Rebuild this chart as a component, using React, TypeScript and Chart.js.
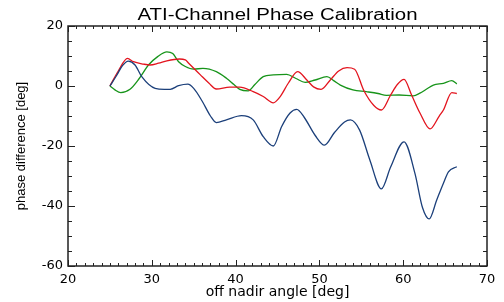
import React, { useEffect, useRef } from "react";
import { Chart, registerables } from "chart.js";

Chart.register(...registerables);

const titleText = "ATI-Channel Phase Calibration";
const xTitle = "off nadir angle [deg]";
const yTitle = "phase difference [deg]";

const xTickValues = [20, 30, 40, 50, 60, 70];
const yTickValues = [-60, -40, -20, 0, 20];
const xMinorStep = 1;
const yMinorStep = 5;

const blueX = [25, 25.8, 26.5, 27.2, 28, 28.8, 30.4, 31.5, 32.2, 33.2, 34.3, 35, 36, 37, 37.7, 38.9, 40.7, 42.1, 43.3, 44.5, 45.5, 46.5, 47.3, 48.2, 49.5, 50.6, 51.8, 53, 53.7, 54.8, 56, 57.4, 58.5, 60.1, 61.4, 62.3, 63.1, 64, 64.8, 65.4, 66.4];
const blueY = [0, 3.5, 6.8, 8.3, 7, 3.1, -0.8, -1.1, -1.1, 0.1, 0.6, -0.8, -5, -10, -12.2, -11.3, -9.9, -11.3, -16.9, -20, -13.5, -9, -7.8, -10.5, -16.5, -19.7, -15.5, -12, -11.3, -14.7, -24.5, -34.3, -27, -18.6, -29.1, -40.5, -44.3, -38, -32.4, -28.6, -26.9];

const redX = [25, 26, 27.1, 27.8, 29, 29.8, 30.8, 31.8, 33.3, 34, 34.4, 35.8, 36.8, 37.7, 39.3, 40.5, 42.1, 43.3, 44.5, 45.3, 46.3, 47.4, 48.5, 49.3, 50.2, 51.3, 52.3, 53.3, 54.2, 55.3, 56.5, 57.4, 58.5, 59.3, 60.1, 61, 62, 63.2, 64.3, 64.8, 65.8, 66.4];
const redY = [0, 5, 9.2, 8.1, 7.3, 7, 7.6, 8.4, 9, 8.7, 7.6, 3.7, 1, -1, -0.4, -0.4, -1.9, -3.5, -5.6, -3.6, 1, 4.8, 2, -0.3, -1.1, 2, 5, 6.1, 5.6, -1.5, -6.5, -8, -3, 0.5, 2.2, -3, -9, -14.3, -10, -8, -2.2, -2.5];

const greenX = [25, 25.6, 26.3, 27.4, 28.5, 29.6, 30.7, 31.8, 32.5, 33.2, 34, 35, 36.1, 37.7, 38.9, 39.8, 40.5, 41.5, 42.3, 43.3, 44.5, 46.1, 47.2, 48.3, 49.5, 50.9, 51.7, 52.5, 54, 55.6, 57, 58, 59.5, 61.2, 62, 62.8, 63.6, 64.8, 65.8, 66.4];
const greenY = [0, -1.3, -2.2, -1.1, 2.5, 7, 9.8, 11.4, 10.8, 8.1, 6.5, 5.6, 5.9, 4.8, 2.6, 0.5, -1.1, -1.6, 0.5, 3.1, 3.7, 3.9, 2.5, 1.2, 2, 3.1, 1.8, 0.3, -1.3, -1.9, -2.5, -3.1, -3, -3.3, -2.4, -1, 0.3, 0.9, 1.8, 0.7];

const pts = (xs: number[], ys: number[]) => xs.map((x, i) => ({ x, y: ys[i] }));

const WIDE = "'DejaVu Sans', Verdana, sans-serif";
const NARROW = "'Liberation Sans', Arial, Helvetica, sans-serif";

const framePlugin = {
  id: "idlFrame",
  afterDraw(chart: any) {
    const { ctx, chartArea: a, scales } = chart;
    const xs = scales.x;
    const ys = scales.y;
    ctx.save();
    // title centred over the plot area, slightly widened like the original font
    ctx.fillStyle = "#000";
    ctx.font = `16px ${NARROW}`;
    ctx.textAlign = "center";
    ctx.textBaseline = "alphabetic";
    const w = ctx.measureText(titleText).width;
    const sx = 280 / w;
    ctx.translate((a.left + a.right) / 2, 20);
    ctx.scale(sx, 1);
    ctx.fillText(titleText, 0, 0);
    ctx.setTransform(1, 0, 0, 1, 0, 0);
    ctx.restore();

    ctx.save();
    ctx.strokeStyle = "#222";
    ctx.lineWidth = 1;
    ctx.beginPath();
    for (let v = xs.min; v <= xs.max + 1e-9; v += xMinorStep) {
      const px = Math.round(xs.getPixelForValue(v)) + 0.5;
      const len = xTickValues.includes(v) ? 6 : 3;
      ctx.moveTo(px, a.bottom);
      ctx.lineTo(px, a.bottom - len);
      ctx.moveTo(px, a.top);
      ctx.lineTo(px, a.top + len);
    }
    for (let v = ys.min; v <= ys.max + 1e-9; v += yMinorStep) {
      const py = Math.round(ys.getPixelForValue(v)) + 0.5;
      const len = yTickValues.includes(v) ? 7 : 4;
      ctx.moveTo(a.left, py);
      ctx.lineTo(a.left + len, py);
      ctx.moveTo(a.right, py);
      ctx.lineTo(a.right - len, py);
    }
    ctx.stroke();
    ctx.lineWidth = 1.5;
    ctx.strokeRect(a.left, a.top, a.right - a.left, a.bottom - a.top);
    ctx.restore();
  },
};

export default function App() {
  const ref = useRef<HTMLCanvasElement | null>(null);
  useEffect(() => {
    document.body.style.margin = "0";
    const canvas = ref.current;
    if (!canvas) return;
    const lineDs = (label: string, xs: number[], ys: number[], color: string) => ({
      label,
      data: pts(xs, ys),
      borderColor: color,
      backgroundColor: color,
      borderWidth: 1.3,
      pointRadius: 0,
      cubicInterpolationMode: "monotone" as const,
      fill: false,
    });
    const chart = new Chart(canvas, {
      type: "line",
      data: {
        datasets: [
          lineDs("channel 1", blueX, blueY, "#1b3f7a"),
          lineDs("channel 2", redX, redY, "#e3141e"),
          lineDs("channel 3", greenX, greenY, "#17941a"),
        ],
      },
      plugins: [framePlugin],
      options: {
        animation: false,
        responsive: false,
        maintainAspectRatio: false,
        layout: { padding: { left: 0, right: 17, top: 26, bottom: 0 } },
        plugins: {
          legend: { display: false },
          tooltip: { enabled: false },
          title: { display: false },
        },
        scales: {
          x: {
            type: "linear",
            min: 20,
            max: 70,
            afterBuildTicks: (s: any) => {
              s.ticks = xTickValues.map((v) => ({ value: v }));
            },
            afterFit: (s: any) => {
              s.height = 36;
            },
            grid: { display: false, drawTicks: false },
            border: { display: false },
            ticks: {
              color: "#000",
              font: { family: WIDE, size: 13 },
              padding: 6,
              maxRotation: 0,
              autoSkip: false,
            },
            title: {
              display: true,
              text: xTitle,
              color: "#000",
              font: { family: WIDE, size: 14 },
              padding: { top: 0, bottom: 1 },
            },
          },
          y: {
            type: "linear",
            min: -60,
            max: 20,
            afterBuildTicks: (s: any) => {
              s.ticks = yTickValues.map((v) => ({ value: v }));
            },
            afterFit: (s: any) => {
              s.width = 68;
            },
            grid: { display: false, drawTicks: false },
            border: { display: false },
            ticks: {
              color: "#000",
              font: { family: WIDE, size: 13 },
              padding: 5,
              autoSkip: false,
            },
            title: {
              display: true,
              text: yTitle,
              color: "#000",
              font: { family: NARROW, size: 13 },
              padding: { top: 14, bottom: 0 },
            },
          },
        },
      },
    });
    return () => chart.destroy();
  }, []);
  return (
    <div style={{ position: "fixed", left: 0, top: 0, width: 504, height: 302, background: "#fff" }}>
      <canvas ref={ref} width={504} height={302} style={{ width: 504, height: 302, display: "block" }} />
    </div>
  );
}
